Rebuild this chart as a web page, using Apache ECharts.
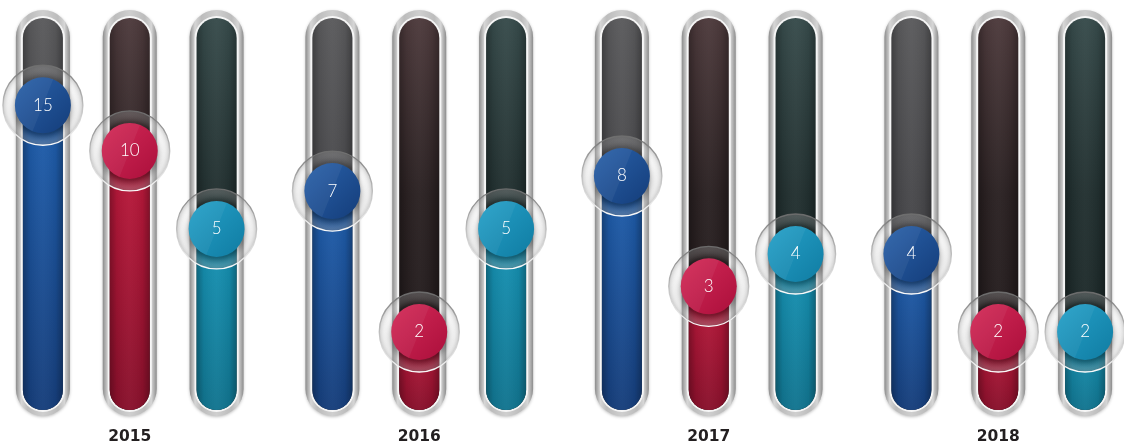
<!DOCTYPE html>
<html>
<head>
<meta charset="utf-8">
<script src="https://cdn.jsdelivr.net/npm/echarts@6/dist/echarts.min.js"></script>
<style>
html,body{margin:0;padding:0;background:#fff;overflow:hidden;}
#chart{position:absolute;left:-15px;top:0;width:1158px;height:444px;}
</style>
</head>
<body>
<div id="chart"></div>
<script>
const years = ['2015', '2016', '2017', '2018'];
const blueValues = [15, 7, 8, 4];
const redValues = [10, 2, 3, 2];
const tealValues = [5, 5, 4, 2];
const axisMin = 1;
const axisMax = 32;

const themes = [
  { offset: -0.3, trackTop: '#5a5a5c', trackMid: '#48484b', trackBot: '#3a3a3d',
    fillTop: '#1f5fae', fillBot: '#163e7b', ballA: '#2a62ab', ballB: '#143d7a' },
  { offset: 0, trackTop: '#4d3a3c', trackMid: '#2a2122', trackBot: '#1f191a',
    fillTop: '#bd193c', fillBot: '#88102b', ballA: '#d42a58', ballB: '#ab0f3b' },
  { offset: 0.3, trackTop: '#374b4b', trackMid: '#223030', trackBot: '#1a2525',
    fillTop: '#1694b6', fillBot: '#11748f', ballA: '#25a1c9', ballB: '#107ca2' }
];

function lin(x, y, x2, y2, stops) {
  return { type: 'linear', x: x, y: y, x2: x2, y2: y2,
    colorStops: stops.map(s => ({ offset: s[0], color: s[1] })) };
}
function rad(stops) {
  return { type: 'radial', x: 0.5, y: 0.5, r: 0.5,
    colorStops: stops.map(s => ({ offset: s[0], color: s[1] })) };
}

function makeRender(t) {
  return function (params, api) {
    const cat = api.value(0);
    const v = api.value(1);
    const band = api.size([1, 0])[0];
    const base = api.coord([cat, axisMin]);
    const cx = base[0] + t.offset * band;
    const yBot = base[1];
    const yTop = api.coord([cat, axisMax])[1];
    const yVal = api.coord([cat, v])[1];
    const h = yBot - yTop;
    const children = [];
    children.push({ type: 'rect', shape: { x: cx - 27, y: yTop - 10, width: 54, height: h + 16, r: 27 },
      style: { fill: lin(0, 0, 1, 0, [[0, '#8c8c8c'], [0.1, '#d6d6d6'], [0.22, '#bcbcbc'], [0.5, '#cfcfcf'], [0.78, '#bcbcbc'], [0.9, '#d6d6d6'], [1, '#8c8c8c']]),
        shadowBlur: 3, shadowColor: 'rgba(0,0,0,0.25)', shadowOffsetY: 1 } });
    children.push({ type: 'rect', shape: { x: cx - 22, y: yTop - 4, width: 44, height: h + 6, r: 22 },
      style: { fill: '#f6f6f6' } });
    children.push({ type: 'rect', shape: { x: cx - 20, y: yTop - 2, width: 40, height: h + 2, r: 20 },
      style: { fill: lin(0, 0, 0, 1, [[0, t.trackTop], [0.45, t.trackMid], [1, t.trackBot]]) } });
    children.push({ type: 'rect', shape: { x: cx - 20, y: yVal, width: 40, height: yBot - yVal, r: [0, 0, 20, 20] },
      style: { fill: lin(0, 0, 0, 1, [[0, t.fillTop], [1, t.fillBot]]) } });
    children.push({ type: 'rect', shape: { x: cx - 20, y: yTop - 2, width: 40, height: h + 2, r: 20 },
      style: { fill: lin(0, 0, 1, 0, [[0, 'rgba(0,0,0,0.28)'], [0.18, 'rgba(0,0,0,0.05)'], [0.5, 'rgba(255,255,255,0.03)'], [0.82, 'rgba(0,0,0,0.05)'], [1, 'rgba(0,0,0,0.28)']]) } });
    children.push({ type: 'circle', shape: { cx: cx, cy: yVal, r: 40 },
      style: { fill: rad([[0, 'rgba(255,255,255,0)'], [0.72, 'rgba(255,255,255,0.04)'], [0.88, 'rgba(190,190,190,0.25)'], [0.97, 'rgba(140,140,140,0.4)'], [1, 'rgba(110,110,110,0.55)']]),
        stroke: lin(0, 0, 0, 1, [[0, 'rgba(110,110,110,0.9)'], [0.6, 'rgba(200,200,200,0.9)'], [1, 'rgba(255,255,255,1)']]), lineWidth: 1.3 } });
    children.push({ type: 'circle', shape: { cx: cx, cy: yVal, r: 28 },
      style: { fill: lin(0, 0, 1, 1, [[0, t.ballA], [1, t.ballB]]),
        shadowBlur: 8, shadowColor: 'rgba(0,0,0,0.45)', shadowOffsetY: 4 } });
    children.push({ type: 'sector', shape: { cx: cx, cy: yVal, r: 28, r0: 0, startAngle: Math.PI * 0.62, endAngle: Math.PI * 1.62 },
      style: { fill: 'rgba(255,255,255,0.05)' } });
    children.push({ type: 'text', style: { text: String(v), x: cx, y: yVal, align: 'center', verticalAlign: 'middle',
      fill: '#ffffff', fontSize: 17, fontFamily: 'Lato', fontWeight: 300 } });
    return { type: 'group', children: children };
  };
}

const seriesValues = [blueValues, redValues, tealValues];
const chart = echarts.init(document.getElementById('chart'), null, { renderer: 'canvas' });
chart.setOption({
  backgroundColor: '#ffffff',
  animation: false,
  grid: { left: 0, right: 0, top: 20, bottom: 34, containLabel: false, outerBoundsMode: 'none' },
  xAxis: {
    type: 'category', data: years,
    axisLine: { show: false }, axisTick: { show: false }, splitLine: { show: false },
    axisLabel: { color: '#231f20', fontSize: 15.5, fontWeight: 'bold', fontFamily: 'DejaVu Sans', margin: 19 }
  },
  yAxis: { type: 'log', logBase: 2, min: axisMin, max: axisMax, show: false },
  series: seriesValues.map((vals, i) => ({
    type: 'custom',
    clip: false,
    renderItem: makeRender(themes[i]),
    encode: { x: 0, y: 1 },
    data: vals.map((v, k) => [k, v])
  }))
});
</script>
</body>
</html>
